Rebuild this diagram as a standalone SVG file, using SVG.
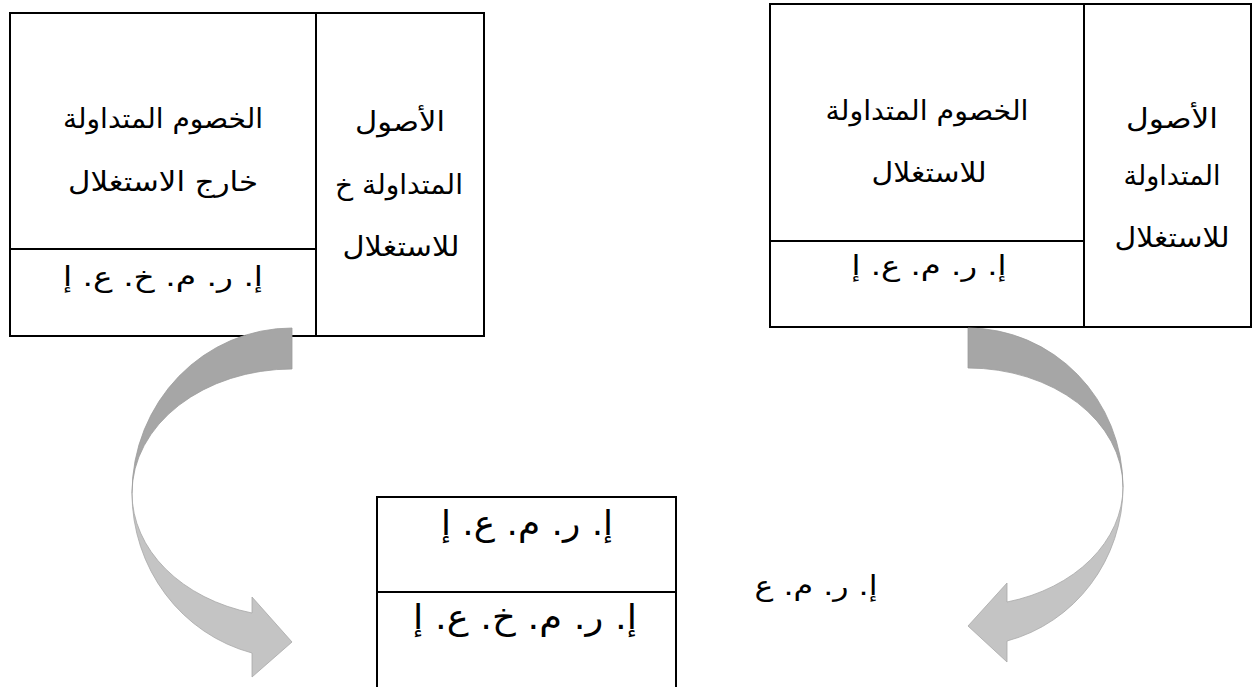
<svg xmlns="http://www.w3.org/2000/svg" width="1254" height="687" viewBox="0 0 1254 687">
  <style>
    .frame { fill: none; stroke: #000; stroke-width: 2; }
    .rule { stroke: #000; stroke-width: 2; }
    .lbl { font-family: "DejaVu Sans", "Noto Sans", sans-serif; fill: #000; text-anchor: middle; direction: rtl; unicode-bidi: embed; }
    .t27 { font-size: 27px; }
    .t34 { font-size: 34px; }
    .back { fill: #a6a6a6; stroke: #9c9c9c; stroke-width: 0.8; }
    .front { fill: #c4c4c4; stroke: #a8a8a8; stroke-width: 0.8; }
  </style>
  <rect width="1254" height="687" fill="#fff"/>

  <!-- left table: non-operating current items -->
  <g id="box-non-operating">
    <rect class="frame" x="10" y="13" width="474" height="323"/>
    <line class="rule" x1="316" y1="13" x2="316" y2="336"/>
    <line class="rule" x1="10" y1="249" x2="316" y2="249"/>
    <text class="lbl t27" x="163" y="128" textLength="200" lengthAdjust="spacingAndGlyphs">الخصوم المتداولة</text>
    <text class="lbl t27" x="163" y="191" textLength="190" lengthAdjust="spacingAndGlyphs">خارج الاستغلال</text>
    <text class="lbl t27" x="163" y="286" textLength="200" lengthAdjust="spacingAndGlyphs">إ. ر. م. خ. ع. إ</text>
    <text class="lbl t27" x="400" y="131" textLength="90" lengthAdjust="spacingAndGlyphs">الأصول</text>
    <text class="lbl t27" x="399" y="194" textLength="128" lengthAdjust="spacingAndGlyphs">المتداولة خ</text>
    <text class="lbl t27" x="401" y="256" textLength="117" lengthAdjust="spacingAndGlyphs">للاستغلال</text>
  </g>

  <!-- right table: operating current items -->
  <g id="box-operating">
    <rect class="frame" x="770" y="4" width="481" height="323"/>
    <line class="rule" x1="1084" y1="4" x2="1084" y2="327"/>
    <line class="rule" x1="770" y1="241" x2="1084" y2="241"/>
    <text class="lbl t27" x="927" y="120" textLength="203" lengthAdjust="spacingAndGlyphs">الخصوم المتداولة</text>
    <text class="lbl t27" x="929" y="182" textLength="115" lengthAdjust="spacingAndGlyphs">للاستغلال</text>
    <text class="lbl t27" x="929" y="275" textLength="155" lengthAdjust="spacingAndGlyphs">إ. ر. م. ع. إ</text>
    <text class="lbl t27" x="1172" y="128" textLength="92" lengthAdjust="spacingAndGlyphs">الأصول</text>
    <text class="lbl t27" x="1172" y="185" textLength="97" lengthAdjust="spacingAndGlyphs">المتداولة</text>
    <text class="lbl t27" x="1172" y="247" textLength="115" lengthAdjust="spacingAndGlyphs">للاستغلال</text>
  </g>

  <!-- bottom table: combined requirement -->
  <g id="box-total">
    <rect class="frame" x="377" y="497" width="299" height="210"/>
    <line class="rule" x1="377" y1="592" x2="676" y2="592"/>
    <text class="lbl t34" x="527" y="535" textLength="172" lengthAdjust="spacingAndGlyphs">إ. ر. م. ع. إ</text>
    <text class="lbl t34" x="525" y="629" textLength="224" lengthAdjust="spacingAndGlyphs">إ. ر. م. خ. ع. إ</text>
  </g>

  <g id="label-total">
    <text class="lbl t27" x="816" y="595" textLength="123" lengthAdjust="spacingAndGlyphs">إ. ر. م. ع</text>
  </g>

  <!-- curved ribbon arrows -->
  <g id="connectors">
    <g id="arrow-left">
      <path class="back" d="M292,328 A160,165 0 0 0 132,493 A160,124 0 0 1 292,369 Z"/>
      <path class="front" d="M132,493 A160,165 0 0 0 252,653 L252,677 L292,642 L252,597 L252,613 A160,124 0 0 1 132,493 Z"/>
    </g>
    <g id="arrow-right">
      <path class="back" d="M968,328 A155,159 0 0 1 1123,487 A155,119 0 0 0 968,368 Z"/>
      <path class="front" d="M1123,487 A155,159 0 0 1 1007,641 L1007,662 L968,626 L1007,583 L1007,602 A155,119 0 0 0 1123,487 Z"/>
    </g>
  </g>
</svg>
